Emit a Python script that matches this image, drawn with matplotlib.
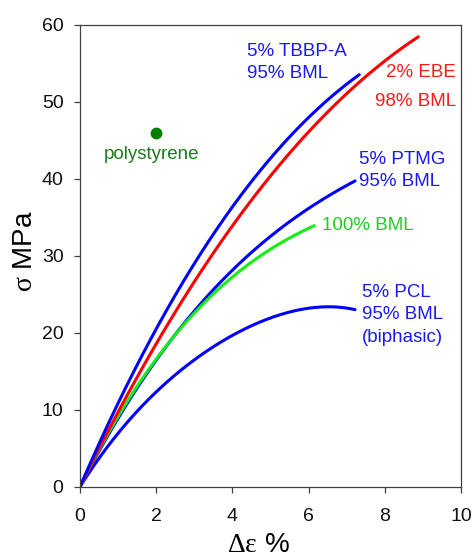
import numpy as np
import matplotlib
matplotlib.use("Agg")
import matplotlib.pyplot as plt

plt.rcParams['font.family'] = ['Liberation Sans', 'DejaVu Sans']
plt.rcParams['mathtext.fontset'] = 'custom'
plt.rcParams['mathtext.rm'] = 'Liberation Serif'
plt.rcParams['mathtext.it'] = 'Liberation Serif:italic'

# ---- data (strain %, stress MPa) ----
tbbp_x = [0, 0.43, 0.88, 1.9, 2.76, 3.32, 4.37, 4.99, 5.86, 6.56, 7.0, 7.33]
tbbp_y = [0, 5.0, 10.0, 19.6, 26.8, 31.2, 39.0, 42.6, 47.2, 50.7, 52.4, 53.5]

ebe_x = [0, 0.45, 0.95, 2.2, 3.04, 3.4, 4.37, 4.99, 5.86, 7.04, 7.87, 8.31, 8.88]
ebe_y = [0, 5.0, 10.0, 20.2, 26.8, 29.2, 36.4, 40.3, 45.0, 51.5, 55.2, 56.7, 58.4]

ptmg_x = [0, 0.49, 1.07, 2.45, 3.76, 4.29, 5.25, 6.12, 7.22]
ptmg_y = [0, 5.0, 10.0, 19.05, 26.6, 29.4, 33.8, 36.8, 39.7]

bml_x = [0, 0.49, 1.07, 2.45, 3.94, 4.5, 5.25, 6.15]
bml_y = [0, 5.0, 10.0, 19.05, 26.8, 29.4, 31.8, 33.9]

pcl_x = [0, 0.65, 1.57, 2.57, 3.72, 4.25, 5.07, 5.95, 6.65, 7.22]
pcl_y = [0, 5.0, 10.0, 14.7, 19.0, 20.3, 22.1, 23.0, 23.4, 23.0]

ps_x = [2.0]
ps_y = [46.0]

x_ticks = [0, 2, 4, 6, 8, 10]
y_ticks = [0, 10, 20, 30, 40, 50, 60]


def smooth(xs, ys, deg=3, n=200):
    """Least-squares smooth curve through the read points (drawing only),
    pinned at the origin so each curve starts at (0, 0)."""
    x = np.asarray(xs, float)
    y = np.asarray(ys, float)
    A = np.column_stack([x ** k for k in range(1, deg + 1)])
    w = np.ones_like(x)
    w[-1] = 4.0  # keep the end point
    coef, *_ = np.linalg.lstsq(A * w[:, None], y * w, rcond=None)
    sx = np.linspace(0, x[-1], n)
    sy = np.column_stack([sx ** k for k in range(1, deg + 1)]) @ coef
    return sx, sy


fig = plt.figure(figsize=(4.74, 5.59), dpi=100)
ax = fig.add_axes([80 / 474, 72.3 / 559, 381 / 474, 462 / 559])

BLUE = '#0000ff'
RED = '#ff0000'
GREEN = '#14f014'
lw = 2.2

for xs, ys, col, d in [(pcl_x, pcl_y, BLUE, 4), (ptmg_x, ptmg_y, BLUE, 3), (bml_x, bml_y, GREEN, 3),
                       (ebe_x, ebe_y, RED, 3), (tbbp_x, tbbp_y, BLUE, 3)]:
    sx, sy = smooth(xs, ys, deg=d)
    ax.plot(sx, sy, color=col, lw=lw, solid_capstyle='round')

ax.plot(ps_x, ps_y, 'o', color='#008000', ms=7.5)

fs = 13.5
tb = '#1a1af0'
ax.text(1.88, 43.2, 'polystyrene', color='#1f7a1f', fontsize=fs, ha='center', va='center')
ax.text(4.39, 56.5, '5% TBBP-A', color=tb, fontsize=fs, ha='left', va='center')
ax.text(4.39, 53.7, '95% BML', color=tb, fontsize=fs, ha='left', va='center')
ax.text(9.87, 53.8, '2% EBE', color='#ff1a1a', fontsize=fs, ha='right', va='center')
ax.text(9.87, 50.0, '98% BML', color='#ff1a1a', fontsize=fs, ha='right', va='center')
ax.text(7.31, 42.5, '5% PTMG', color=tb, fontsize=fs, ha='left', va='center')
ax.text(7.31, 39.6, '95% BML', color=tb, fontsize=fs, ha='left', va='center')
ax.text(6.34, 33.9, '100% BML', color='#22cc22', fontsize=fs, ha='left', va='center')
ax.text(7.39, 25.2, '5% PCL', color=tb, fontsize=fs, ha='left', va='center')
ax.text(7.39, 22.3, '95% BML', color=tb, fontsize=fs, ha='left', va='center')
ax.text(7.39, 19.4, '(biphasic)', color=tb, fontsize=fs, ha='left', va='center')

ax.set_xlim(0, 10)
ax.set_ylim(0, 60)
ax.set_xticks(x_ticks)
ax.set_yticks(y_ticks)
ax.set_xticklabels([str(v) for v in x_ticks])
ax.set_yticklabels([str(v) for v in y_ticks])

for s in ax.spines.values():
    s.set_color('#404040')
    s.set_linewidth(0.9)
ax.tick_params(direction='out', length=4.3, width=0.9, color='#404040', labelsize=14,
               labelcolor='#111111')
ax.tick_params(axis='x', pad=11)
ax.tick_params(axis='y', pad=7.5)

ax.set_xlabel(r'$\mathrm{\Delta\varepsilon}$ %', fontsize=20)
ax.xaxis.set_label_coords((258 - 80) / 381, -0.099)
ax.set_ylabel(r'$\mathrm{\sigma}$ MPa', fontsize=20)
ax.yaxis.set_label_coords(-0.11, 0.51)

fig.savefig('out.png', dpi=100)
